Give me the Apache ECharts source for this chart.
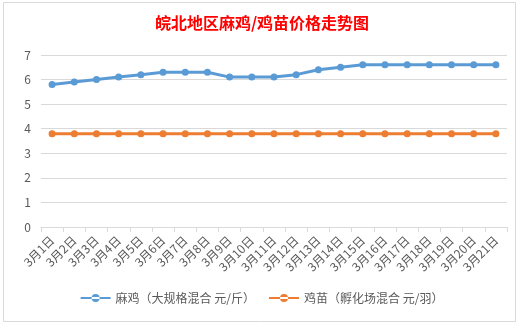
<!DOCTYPE html>
<html><head><meta charset="utf-8">
<script src="https://cdn.jsdelivr.net/npm/echarts@6/dist/echarts.min.js"></script>
<style>html,body{margin:0;padding:0;background:#fff}#c{width:524px;height:326px}</style>
</head><body><div id="c"></div>
<script>
const categories = ['3月1日','3月2日','3月3日','3月4日','3月5日','3月6日','3月7日','3月8日','3月9日','3月10日','3月11日','3月12日','3月13日','3月14日','3月15日','3月16日','3月17日','3月18日','3月19日','3月20日','3月21日'];
const maji = [5.8,5.9,6.0,6.1,6.2,6.3,6.3,6.3,6.1,6.1,6.1,6.2,6.4,6.5,6.6,6.6,6.6,6.6,6.6,6.6,6.6];
const jimiao = [3.8,3.8,3.8,3.8,3.8,3.8,3.8,3.8,3.8,3.8,3.8,3.8,3.8,3.8,3.8,3.8,3.8,3.8,3.8,3.8,3.8];
const seriesNames = ['麻鸡（大规格混合 元/斤）','鸡苗（孵化场混合 元/羽）'];
const titleText = '皖北地区麻鸡/鸡苗价格走势图';
const font = '"Noto Sans CJK SC", "Microsoft YaHei", sans-serif';
const chart = echarts.init(document.getElementById('c'), null, {renderer:'canvas'});
chart.setOption({
  animation:false,
  backgroundColor:'#fff',
  graphic:[{type:'rect',shape:{x:3.5,y:2.5,width:512,height:319},style:{fill:'none',stroke:'#d9d9d9',lineWidth:1},silent:true,z:-1}],
  title:{text:titleText,left:'center',top:10,textStyle:{color:'#ff0000',fontSize:16,fontWeight:'bold',fontFamily:font}},
  legend:{bottom:17,left:'center',itemWidth:30,itemHeight:8,itemGap:14,
    textStyle:{color:'#595959',fontSize:12,fontFamily:font},
    data:[{name:seriesNames[0],icon:'path://M0,4 L30,4 L30,6 L0,6 Z M11,5 A4,4 0 1,0 19,5 A4,4 0 1,0 11,5 Z'},{name:seriesNames[1],icon:'path://M0,4 L30,4 L30,6 L0,6 Z M11,5 A4,4 0 1,0 19,5 A4,4 0 1,0 11,5 Z'}]},
  grid:{left:41,right:17,top:55,bottom:99,containLabel:false},
  xAxis:{type:'category',data:categories,boundaryGap:true,
    axisLine:{lineStyle:{color:'#d9d9d9',width:1}},
    axisTick:{show:true,length:5,lineStyle:{color:'#d9d9d9'}},
    axisLabel:{rotate:45,color:'#595959',fontSize:12,fontFamily:font,interval:0,margin:11}},
  yAxis:{type:'value',min:0,max:7,interval:1,
    axisLine:{show:false},axisTick:{show:false},
    axisLabel:{color:'#595959',fontSize:12,fontFamily:font,margin:10},
    splitLine:{lineStyle:{color:'#d9d9d9',width:1}}},
  series:[
    {name:seriesNames[0],type:'line',data:maji,symbol:'circle',symbolSize:7,
      lineStyle:{color:'#5b9bd5',width:3},itemStyle:{color:'#5b9bd5'}},
    {name:seriesNames[1],type:'line',data:jimiao,symbol:'circle',symbolSize:7,
      lineStyle:{color:'#ed7d31',width:3},itemStyle:{color:'#ed7d31'}}
  ]
});
</script></body></html>
